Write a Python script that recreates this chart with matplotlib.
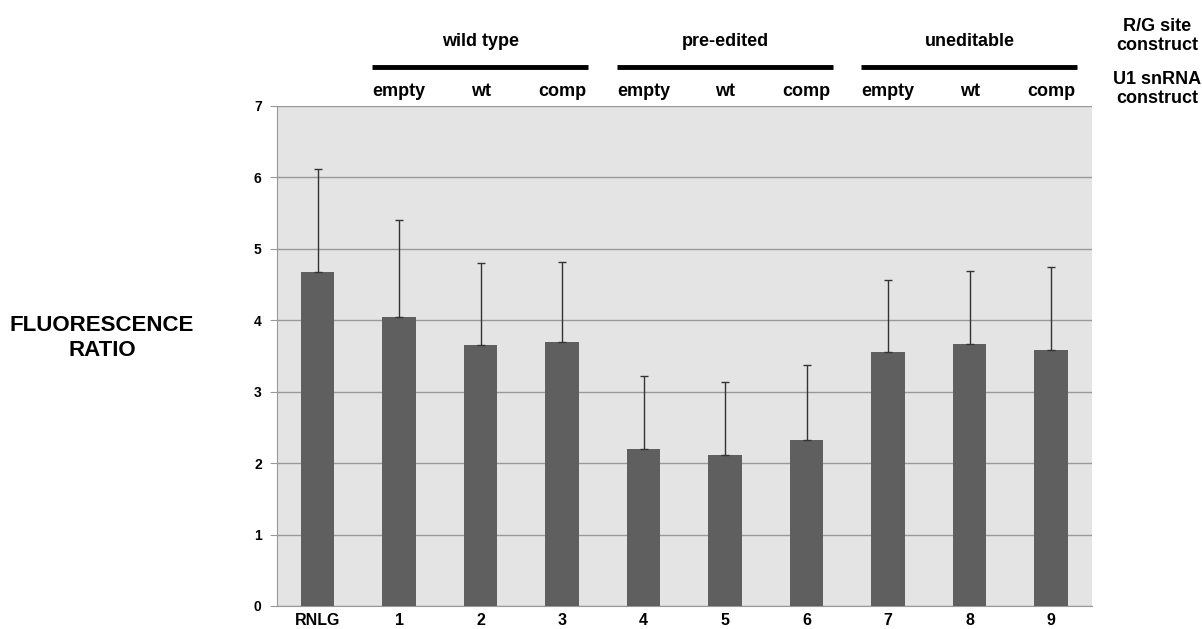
import numpy as np
import matplotlib.pyplot as plt

plt.rcParams['font.family'] = ['Liberation Sans', 'DejaVu Sans']
plt.rcParams['font.weight'] = 'bold'

# Données
categories = ['RNLG', '1', '2', '3', '4', '5', '6', '7', '8', '9']
ratio = [4.67, 4.04, 3.66, 3.70, 2.20, 2.12, 2.33, 3.55, 3.67, 3.59]
err_haut = [1.45, 1.37, 1.14, 1.12, 1.02, 1.01, 1.04, 1.01, 1.02, 1.15]
groupes = ['wild type', 'pre-edited', 'uneditable']
constructs_u1 = ['empty', 'wt', 'comp']

fig = plt.figure(figsize=(12.02, 6.29), dpi=100)
ax = fig.add_axes([0.2304, 0.0366, 0.678, 0.795])

x = np.arange(len(categories))
ax.set_facecolor('#e4e4e4')
ax.bar(x, ratio, width=0.41, color='#5f5f5f', zorder=3)
ax.errorbar(x, ratio, yerr=[np.zeros(len(ratio)), err_haut], fmt='none',
            ecolor='#333333', elinewidth=1, capsize=3, capthick=1, zorder=4)

ax.set_xlim(-0.5, len(categories) - 0.5)
ax.set_ylim(0, 7)
ax.set_yticks(np.arange(0, 8, 1))
ax.set_xticks(x)
ax.set_xticklabels(categories, fontsize=11.5, fontweight='bold')
ax.tick_params(axis='x', length=0, pad=5)
ax.tick_params(axis='y', length=5, color='#999999', labelsize=10, pad=6)
ax.yaxis.grid(True, color='#999999', linewidth=1, zorder=0)
for s in ['top', 'right']:
    ax.spines[s].set_visible(False)
for s in ['left', 'bottom']:
    ax.spines[s].set_color('#999999')

# étiquettes du haut
trans = ax.get_xaxis_transform()
for i in range(9):
    ax.text(x[i + 1], 1.028, constructs_u1[i % 3], transform=trans,
            ha='center', va='center', fontsize=13, fontweight='bold')
for g, nom in enumerate(groupes):
    i0 = 1 + 3 * g
    ax.plot([x[i0] - 0.33, x[i0 + 2] + 0.32], [1.077, 1.077], transform=trans,
            color='black', linewidth=3.5, clip_on=False, solid_capstyle='butt')
    ax.text(x[i0 + 1], 1.128, nom, transform=trans,
            ha='center', va='center', fontsize=13, fontweight='bold')

fig.text(1157 / 1202, 1 - 36 / 629, 'R/G site\nconstruct', ha='center', va='center',
         fontsize=13, fontweight='bold', linespacing=1.15)
fig.text(1157 / 1202, 1 - 89 / 629, 'U1 snRNA\nconstruct', ha='center', va='center',
         fontsize=13, fontweight='bold', linespacing=1.15)
fig.text(102 / 1202, 1 - 338 / 629, 'FLUORESCENCE\nRATIO', ha='center', va='center',
         fontsize=16, fontweight='bold', linespacing=1.2)

fig.savefig('out.png', dpi=100)
